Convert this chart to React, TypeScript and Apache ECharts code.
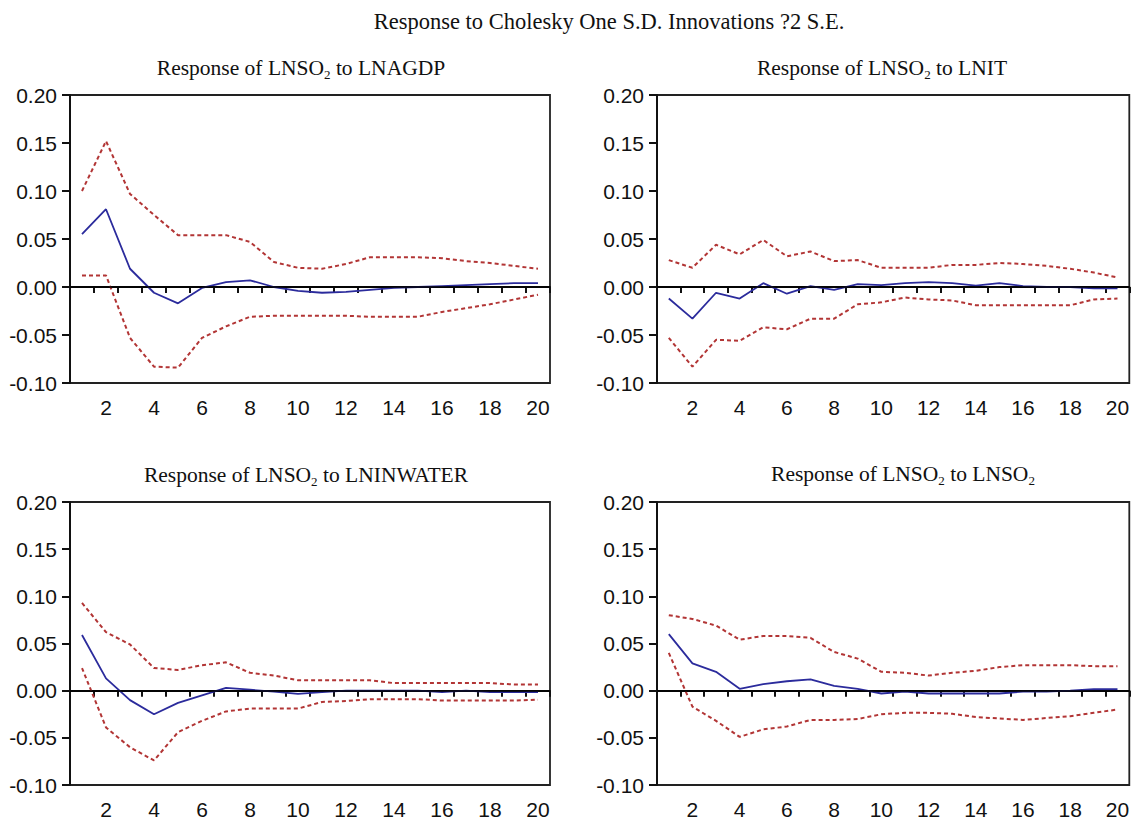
import React, { useEffect, useRef } from "react";
import * as echarts from "echarts";

const periods = ["1", "2", "3", "4", "5", "6", "7", "8", "9", "10", "11", "12", "13", "14", "15", "16", "17", "18", "19", "20"];

const mainTitle = "Response to Cholesky One S.D. Innovations ?2 S.E.";
const panelTitles = [
  "Response of LNSO{s|2} to LNAGDP",
  "Response of LNSO{s|2} to LNIT",
  "Response of LNSO{s|2} to LNINWATER",
  "Response of LNSO{s|2} to LNSO{s|2}",
];

const agdpResp = [0.055, 0.081, 0.019, -0.006, -0.017, -0.001, 0.005, 0.007, 0.0, -0.004, -0.006, -0.005, -0.003, -0.001, 0.0, 0.001, 0.002, 0.003, 0.004, 0.004];
const agdpUpper = [0.1, 0.152, 0.097, 0.075, 0.054, 0.054, 0.054, 0.047, 0.026, 0.02, 0.019, 0.024, 0.031, 0.031, 0.031, 0.03, 0.027, 0.025, 0.022, 0.019];
const agdpLower = [0.012, 0.012, -0.053, -0.083, -0.084, -0.053, -0.041, -0.031, -0.03, -0.03, -0.03, -0.03, -0.031, -0.031, -0.031, -0.026, -0.022, -0.018, -0.013, -0.008];

const itResp = [-0.012, -0.033, -0.006, -0.012, 0.004, -0.007, 0.001, -0.003, 0.003, 0.002, 0.004, 0.005, 0.004, 0.0015, 0.004, 0.001, 0.0, 0.0, -0.0015, -0.0015];
const itUpper = [0.028, 0.02, 0.044, 0.034, 0.049, 0.032, 0.037, 0.027, 0.028, 0.02, 0.02, 0.02, 0.023, 0.023, 0.025, 0.024, 0.022, 0.019, 0.015, 0.01];
const itLower = [-0.053, -0.083, -0.055, -0.056, -0.042, -0.044, -0.033, -0.033, -0.018, -0.016, -0.011, -0.013, -0.014, -0.019, -0.019, -0.019, -0.019, -0.019, -0.013, -0.012];

const inwaterResp = [0.059, 0.013, -0.01, -0.025, -0.013, -0.005, 0.003, 0.001, -0.001, -0.0035, -0.0015, 0.0, 0.0, 0.0, 0.0, -0.0015, 0.0, -0.0015, -0.0015, -0.0015];
const inwaterUpper = [0.093, 0.062, 0.049, 0.024, 0.022, 0.027, 0.03, 0.019, 0.016, 0.011, 0.011, 0.011, 0.011, 0.008, 0.008, 0.008, 0.008, 0.008, 0.0065, 0.0065];
const inwaterLower = [0.024, -0.039, -0.06, -0.074, -0.044, -0.032, -0.022, -0.019, -0.019, -0.019, -0.012, -0.011, -0.009, -0.009, -0.009, -0.0105, -0.0105, -0.0105, -0.0105, -0.0095];

const so2Resp = [0.06, 0.029, 0.02, 0.002, 0.007, 0.01, 0.012, 0.005, 0.002, -0.003, -0.001, -0.003, -0.003, -0.003, -0.003, -0.001, -0.001, 0.0, 0.0015, 0.0015];
const so2Upper = [0.08, 0.076, 0.069, 0.054, 0.058, 0.058, 0.056, 0.041, 0.034, 0.02, 0.019, 0.016, 0.019, 0.021, 0.025, 0.027, 0.027, 0.027, 0.026, 0.026];
const so2Lower = [0.04, -0.017, -0.032, -0.049, -0.041, -0.038, -0.031, -0.031, -0.03, -0.025, -0.0235, -0.0235, -0.0245, -0.028, -0.0295, -0.031, -0.029, -0.027, -0.0235, -0.02];

const panels = [
  { resp: agdpResp, upper: agdpUpper, lower: agdpLower },
  { resp: itResp, upper: itUpper, lower: itLower },
  { resp: inwaterResp, upper: inwaterUpper, lower: inwaterLower },
  { resp: so2Resp, upper: so2Upper, lower: so2Lower },
];

const gridBoxes = [
  { left: 70, top: 95, width: 480, height: 288 },
  { left: 657, top: 95, width: 479, height: 288 },
  { left: 70, top: 502, width: 480, height: 287 },
  { left: 657, top: 502, width: 479, height: 287 },
];
const titlePos = [
  { x: 301, y: 68 },
  { x: 882, y: 68 },
  { x: 306, y: 475 },
  { x: 903, y: 474 },
];

const SERIF = "'Liberation Serif', 'Times New Roman', serif";
const SANS = "'Liberation Sans', Arial, sans-serif";
const BLUE = "#2b2b9c";
const RED = "#b23535";

export default function App() {
  const ref = useRef<HTMLDivElement>(null);
  useEffect(() => {
    if (!ref.current) return;
    const chart = echarts.init(ref.current, undefined, { renderer: "svg" });

    const grids = gridBoxes.map((g) => ({
      ...g,
      show: true,
      borderColor: "#222",
      borderWidth: 1.8,
      backgroundColor: "transparent",
      containLabel: false,
    }));

    const xAxes = gridBoxes.map((_, i) => ({
      type: "category",
      gridIndex: i,
      data: periods,
      boundaryGap: true,
      axisLine: { show: true, lineStyle: { color: "#111", width: 2 } },
      axisTick: { show: true, interval: 0, length: 6, lineStyle: { color: "#111", width: 2 } },
      axisLabel: {
        interval: (idx: number) => idx % 2 === 1,
        margin: 14,
        color: "#111",
        fontFamily: SANS,
        fontSize: 21,
      },
      splitLine: { show: false },
    }));

    const yAxes = gridBoxes.map((_, i) => ({
      type: "value",
      gridIndex: i,
      min: -0.1,
      max: 0.2,
      interval: 0.05,
      axisLine: { show: true, lineStyle: { color: "#111", width: 2 } },
      axisTick: { show: true, length: 8, lineStyle: { color: "#111", width: 2 } },
      axisLabel: {
        margin: 13,
        color: "#111",
        fontFamily: SANS,
        fontSize: 21,
        formatter: (v: number) => (Math.abs(v) < 1e-9 ? "0.00" : v.toFixed(2)),
      },
      splitLine: { show: false },
    }));

    const series: any[] = [];
    panels.forEach((p, i) => {
      series.push({
        type: "line",
        name: "upper" + i,
        xAxisIndex: i,
        yAxisIndex: i,
        data: p.upper,
        symbol: "none",
        lineStyle: { color: RED, width: 2, type: [4, 3] },
        z: 3,
      });
      series.push({
        type: "line",
        name: "lower" + i,
        xAxisIndex: i,
        yAxisIndex: i,
        data: p.lower,
        symbol: "none",
        lineStyle: { color: RED, width: 2, type: [4, 3] },
        z: 3,
      });
      series.push({
        type: "line",
        name: "resp" + i,
        xAxisIndex: i,
        yAxisIndex: i,
        data: p.resp,
        symbol: "none",
        lineStyle: { color: BLUE, width: 1.8 },
        z: 4,
        markLine: {
          silent: true,
          symbol: ["none", "none"],
          label: { show: false },
          lineStyle: { color: "#000", type: "solid", width: 1.6 },
          data: [{ yAxis: 0 }],
        },
      });
    });

    const graphics: any[] = [
      {
        type: "text",
        x: 609,
        y: 21,
        style: {
          text: mainTitle,
          font: `22.5px ${SERIF}`,
          fill: "#111",
          textAlign: "center",
          textVerticalAlign: "middle",
        },
      },
    ];
    panelTitles.forEach((t, i) => {
      graphics.push({
        type: "text",
        x: titlePos[i].x,
        y: titlePos[i].y,
        style: {
          text: t,
          fontFamily: SERIF,
          fontSize: 21.5,
          fill: "#111",
          align: "center",
          verticalAlign: "middle",
          rich: {
            s: { fontFamily: SERIF, fontSize: 13, fill: "#111", padding: [13, 0, 0, 0] },
          },
        },
      });
    });

    chart.setOption({
      animation: false,
      backgroundColor: "#fff",
      grid: grids,
      xAxis: xAxes,
      yAxis: yAxes,
      series,
      graphic: graphics,
    });
    return () => chart.dispose();
  }, []);
  return (
    <div
      ref={ref}
      style={{ position: "absolute", left: 0, top: 0, width: 1132, height: 820 }}
    />
  );
}
